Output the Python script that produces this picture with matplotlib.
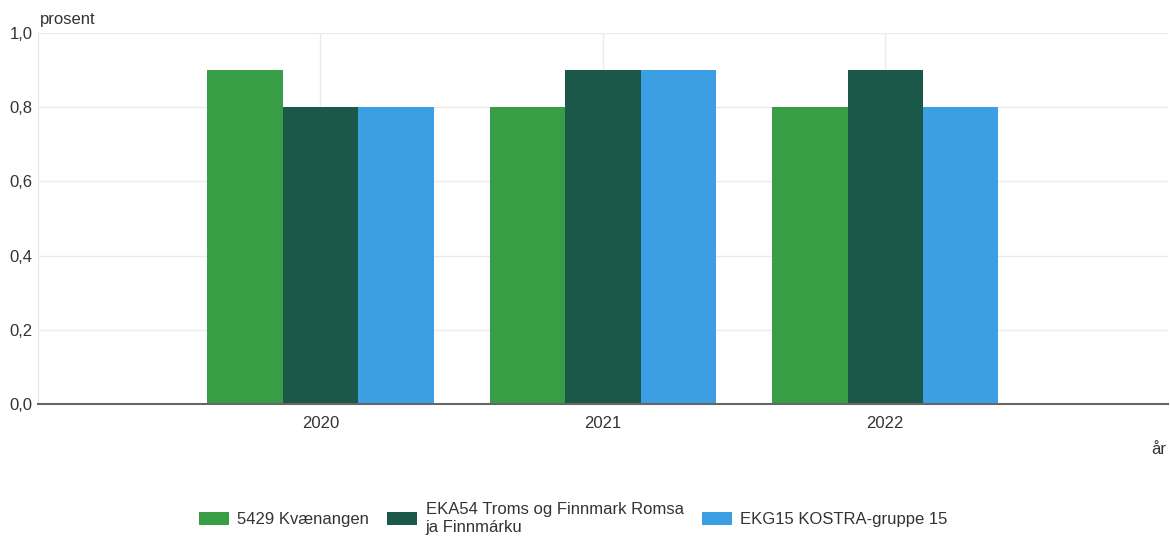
import matplotlib.pyplot as plt
import numpy as np

plt.rcParams['font.family'] = ['Liberation Sans', 'DejaVu Sans']

years = ['2020', '2021', '2022']
series = ['5429 Kvænangen', 'EKA54 Troms og Finnmark Romsa\nja Finnmárku', 'EKG15 KOSTRA-gruppe 15']
kvaenangen = [0.9, 0.8, 0.8]
eka54 = [0.8, 0.9, 0.9]
ekg15 = [0.8, 0.9, 0.8]
colors = ['#379e45', '#1b5849', '#3d9fe3']

fig = plt.figure(figsize=(11.7, 5.4), dpi=100)
ax = fig.add_axes([0.0325, 0.252, 0.9655, 0.687])

x = np.arange(len(years))
w = 0.267
for i, vals in enumerate([kvaenangen, eka54, ekg15]):
    ax.bar(x + (i - 1) * w, vals, width=w, color=colors[i], label=series[i], zorder=2)

ax.set_xlim(-1, 3)
ax.set_ylim(0, 1.0)
ax.set_yticks(np.arange(0, 1.01, 0.2))
ax.set_yticklabels([f'{v:.1f}'.replace('.', ',') for v in np.arange(0, 1.01, 0.2)])
ax.set_xticks(x)
ax.set_xticklabels(years)
ax.tick_params(length=0, labelsize=12, colors='#333333', pad=9)
ax.tick_params(axis='y', pad=4)
ax.grid(True, color='#ebebeb', linewidth=1, zorder=0)
for s in ['top', 'right']:
    ax.spines[s].set_visible(False)
ax.spines['left'].set_color('#e6e6e6')
ax.spines['bottom'].set_color('#666666')
ax.spines['bottom'].set_linewidth(1.5)
ax.spines['bottom'].set_zorder(3)

fig.text(0.034, 0.963, 'prosent', fontsize=12, color='#333333', va='center')
fig.text(0.997, 0.167, 'år', fontsize=12, color='#333333', ha='right', va='center')

fig.legend(loc='center', bbox_to_anchor=(0.49, 0.04), ncol=3, frameon=False,
           fontsize=12, handlelength=1.8, handleheight=0.8, columnspacing=1.1,
           handletextpad=0.5, labelspacing=0.3, labelcolor='#333333')

fig.savefig('out.png', dpi=100)
